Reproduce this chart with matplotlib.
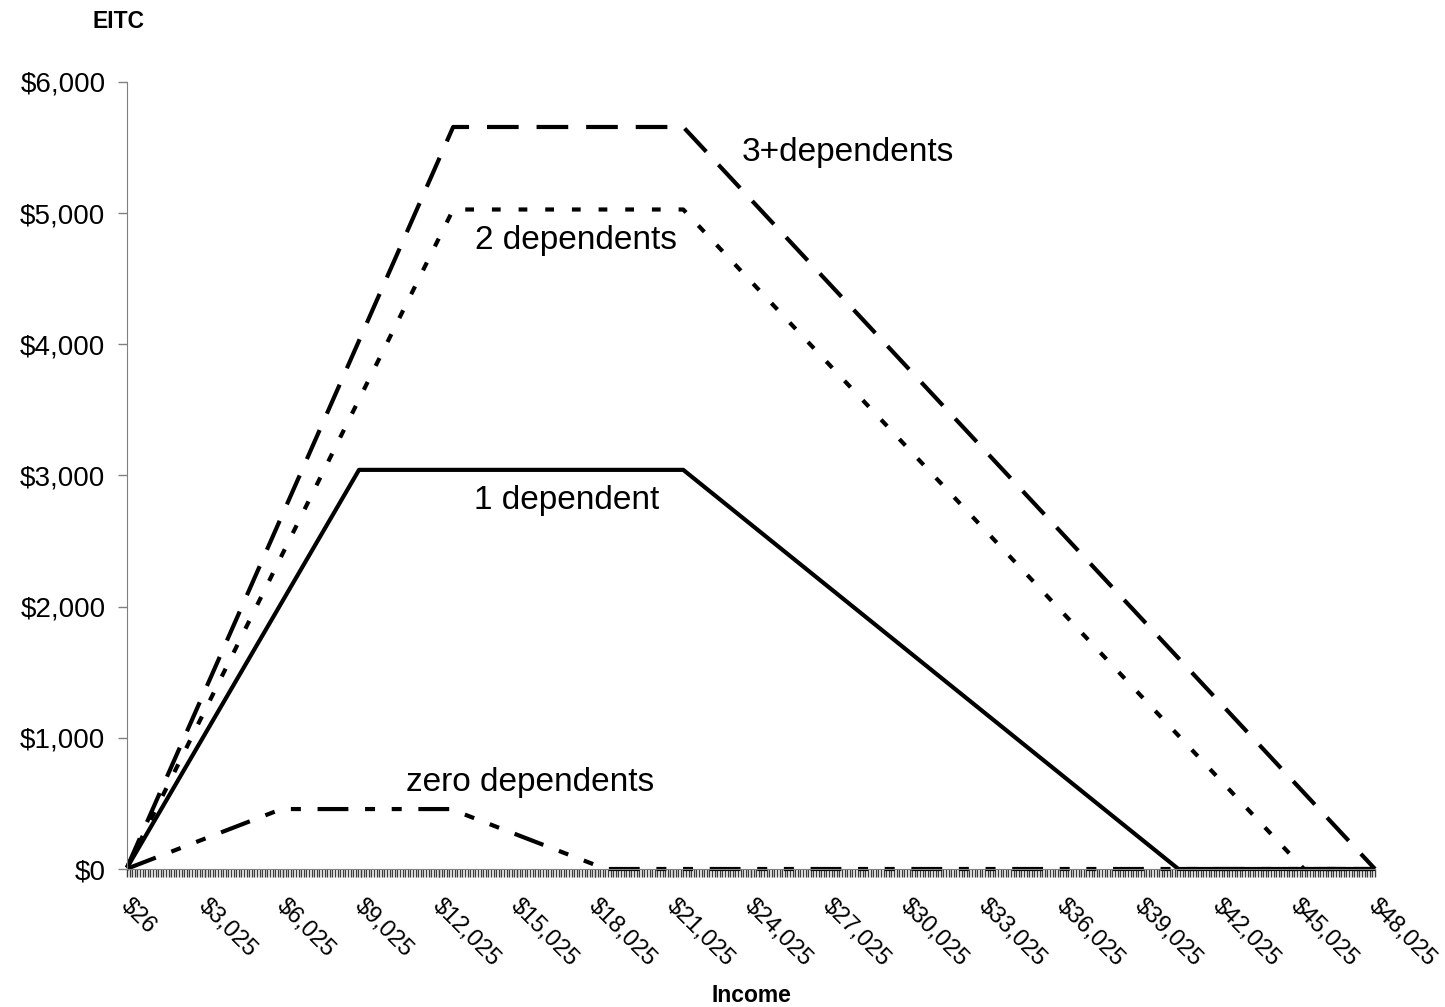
import numpy as np
import matplotlib
matplotlib.use("Agg")
import matplotlib.pyplot as plt
from matplotlib.transforms import ScaledTranslation

# EITC schedule by number of dependents (breakpoints)
inc_three = [26, 12570, 21420, 48025]
eitc_three = [12, 5657, 5657, 0]

inc_two = [26, 12570, 21420, 45295, 48025]
eitc_two = [10, 5028, 5028, 0, 0]

inc_one = [26, 8950, 21420, 40463, 48025]
eitc_one = [9, 3043, 3043, 0, 0]

inc_zero = [26, 5970, 12470, 18440, 48025]
eitc_zero = [2, 457, 457, 0, 0]

xtick_vals = [26] + list(range(3025, 48026, 3000))
ytick_vals = [0, 1000, 2000, 3000, 4000, 5000, 6000]

plt.rcParams['font.family'] = ['Liberation Sans', 'DejaVu Sans']

fig = plt.figure(figsize=(14.45, 10.07), dpi=100)
ax = fig.add_axes([127/1445, 1 - 869/1007, 1248/1445, 787/1007])

lw = 3.0
kw = dict(color='black', lw=lw, clip_on=False, solid_capstyle='butt')
ax.plot(inc_three, eitc_three, ls=(0, (7.6, 4.3)), **kw)
ax.plot(inc_two, eitc_two, ls=(0, (2.1, 4.3)), **kw)
ax.plot(inc_one, eitc_one, ls='-', **kw)
ax.plot(inc_zero, eitc_zero, ls=(0, (7.4, 4.0, 2.4, 4.0, 2.4, 4.0)), **kw)

ax.text(23680, 5460, '3+dependents', fontsize=24, ha='left', va='center')
ax.text(13410, 4795, '2 dependents', fontsize=24, ha='left', va='center')
ax.text(13370, 2813, '1 dependent', fontsize=24, ha='left', va='center')
ax.text(10760, 663, 'zero dependents', fontsize=24, ha='left', va='center')

ax.set_xlim(26, 48025)
ax.set_ylim(0, 6000)

for s in ['top', 'right']:
    ax.spines[s].set_visible(False)
ax.spines['left'].set_color('#808080')
ax.spines['bottom'].set_color('#808080')

ax.set_yticks(ytick_vals)
ax.set_yticklabels([f"${v:,}" for v in ytick_vals])
ax.tick_params(axis='y', direction='out', length=6.5, width=1, color='#808080',
               pad=9, labelsize=20)

ax.set_xticks(xtick_vals)
ax.set_xticklabels([f"${v:,}" for v in xtick_vals])
ax.set_xticks(np.linspace(26, 48025, 481), minor=True)
ax.tick_params(axis='x', which='both', direction='out', length=5.8, width=1,
               color='#3c3c3c', labelsize=17, pad=12.5)
offset = ScaledTranslation(0.05, 0, fig.dpi_scale_trans)
for lab in ax.get_xticklabels():
    lab.set_rotation(-45)
    lab.set_ha('left')
    lab.set_va('top')
    lab.set_rotation_mode('anchor')
    lab.set_transform(lab.get_transform() + offset)

fig.text(118/1445, 1 - 22/1007, 'EITC', fontsize=16.5, fontweight='bold',
         ha='center', va='center')
fig.text(751/1445, 1 - 995/1007, 'Income', fontsize=16.5, fontweight='bold',
         ha='center', va='center')

fig.savefig('out.png', dpi=100)
